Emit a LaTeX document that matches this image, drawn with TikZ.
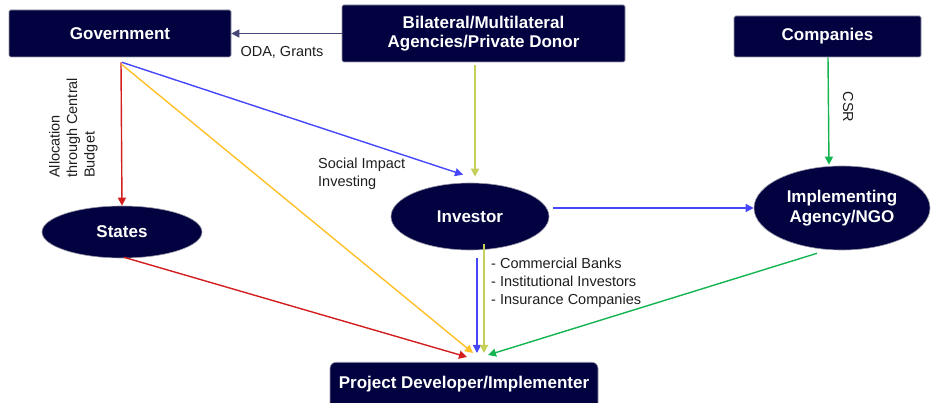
\documentclass[tikz,border=0pt]{standalone}
\usepackage{fontspec}
\setmainfont{Liberation Sans}
\usetikzlibrary{arrows.meta,shapes.geometric}

\definecolor{navy}{RGB}{2,2,64}
\definecolor{edgegrey}{RGB}{150,150,165}
\definecolor{linknavy}{RGB}{70,70,120}
\definecolor{lred}{RGB}{210,30,30}
\definecolor{lyellow}{RGB}{255,192,40}
\definecolor{lblue}{RGB}{70,70,250}
\definecolor{lolive}{RGB}{196,208,90}
\definecolor{lgreen}{RGB}{20,180,80}
\definecolor{labeltext}{RGB}{30,30,30}

\tikzset{
  boxtext/.style={text=white,font=\fontsize{17}{19.5}\selectfont\bfseries,align=center},
  darkbox/.style={boxtext,rectangle,fill=navy,draw=edgegrey,line width=0.6pt,
    rounded corners=1.5pt,inner sep=0pt},
  darkoval/.style={boxtext,ellipse,fill=navy,draw=edgegrey,line width=0.6pt,inner sep=0pt},
  lbl/.style={text=labeltext,font=\fontsize{14.5}{18}\selectfont,align=left,inner sep=0pt},
  flow/.style={line width=1.4pt,-{Triangle[length=8pt,width=8pt]}},
}

\begin{document}
\begin{tikzpicture}[x=1pt,y=-1pt]
  \useasboundingbox (0,0) rectangle (932,403);
  \begin{scope}
    \clip (0,0) rectangle (932,403);

    % boxes
    \node[darkbox,minimum width=222pt,minimum height=47pt] (gov) at (120,33.5) {Government};
    \node[darkbox,minimum width=283pt,minimum height=57pt] (bil) at (483.5,33.5)
      {Bilateral/Multilateral\\Agencies/Private Donor};
    \node[darkbox,minimum width=187pt,minimum height=41pt] (comp) at (827.5,36.5) {Companies};
    \node[darkbox,rounded corners=6pt,minimum width=268pt,minimum height=48pt,
      anchor=north] (proj) at (464,362) {\raisebox{8pt}{Project Developer/Implementer}};

    % ellipses
    \node[darkoval,minimum width=160pt,minimum height=52pt] (states) at (122,232) {States};
    \node[darkoval,minimum width=158pt,minimum height=67pt] (inv) at (470,216.5) {Investor};
    \node[darkoval,minimum width=176pt,minimum height=84pt] (impl) at (842,208)
      {Implementing\\Agency/NGO};

    % flows from the donors
    \draw[flow,linknavy] (bil.west) -- (gov.east);
    \draw[flow,lolive] ([shift={(-8.5,3)}]bil.south) -- ([shift={(5,-6)}]inv.north);
    \draw[flow,lgreen] ([xshift=0.5pt]comp.south) -- ([shift={(-13,-1)}]impl.north);

    % flows from the government
    \draw[flow,lred] ([shift={(1,5)}]gov.south) -- (states.north);
    \draw[flow,lyellow] ([shift={(1.5,7)}]gov.south) -- ([shift={(9,-9)}]proj.north);
    \draw[flow,lblue] ([shift={(2,5)}]gov.south) -- ([shift={(-7,-8)}]inv.north);

    % flows towards the project
    \draw[flow,lred] ([shift={(2,-1)}]states.south) -- ([shift={(3,-5)}]proj.north);
    \draw[flow,lblue] ([shift={(7,8)}]inv.south) -- ([shift={(13,-9)}]proj.north);
    \draw[flow,lolive] ([shift={(14,-6)}]inv.south) -- ([shift={(20,-9)}]proj.north);
    \draw[flow,lgreen] ([shift={(-25,3)}]impl.south) -- ([shift={(24,-7)}]proj.north);
    \draw[flow,lblue] ([shift={(4,-8.5)}]inv.east) -- (impl.west);
  \end{scope}

  % labels
  \node[lbl,anchor=center] (oda) at (282,52) {ODA, Grants};
  \node[lbl,anchor=west] (sii) at (318,173.5) {Social Impact\\Investing};
  \node[lbl,anchor=west] (kinds) at (491,282.5)
    {- Commercial Banks\\- Institutional Investors\\- Insurance Companies};
  \node[lbl,rotate=-90,anchor=center] (csr) at (848,107) {CSR};
  \node[lbl,rotate=90,anchor=north west,font=\fontsize{14.5}{17.5}\selectfont] (alloc)
    at (49,178) {Allocation\\through Central\\Budget};
\end{tikzpicture}
\end{document}
